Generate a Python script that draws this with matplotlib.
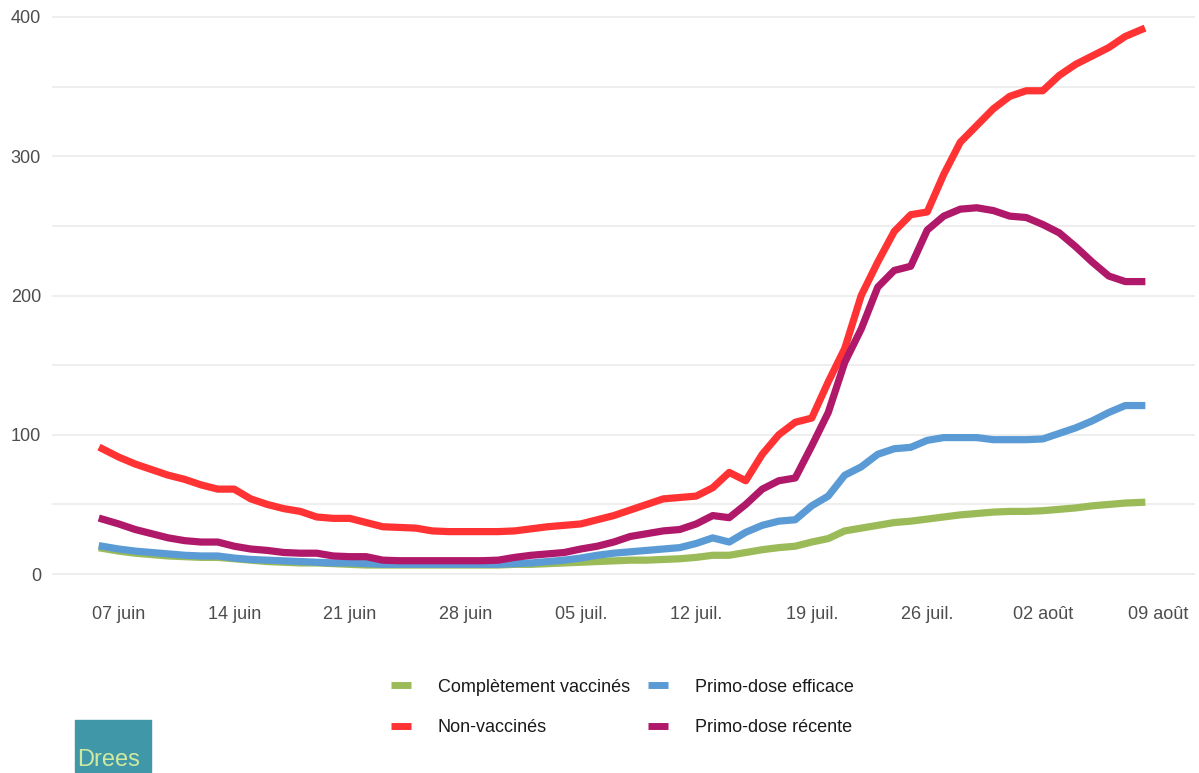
import matplotlib
matplotlib.use('Agg')
import matplotlib.pyplot as plt
from matplotlib.patches import Rectangle
import numpy as np

plt.rc('font', family=['Liberation Sans', 'DejaVu Sans'], size=13)

# daily dates, 06 juin -> 08 août 2021
dates = np.arange(np.datetime64('2021-06-06'), np.datetime64('2021-08-09'))

non_vaccines = [90, 84, 79, 75, 71, 68, 64, 61, 61, 54, 50, 47, 45, 41, 40, 40,
                37, 34, 33.5, 33, 31, 30.5, 30.5, 30.5, 30.5, 31, 32.5, 34, 35, 36,
                39, 42, 46, 50, 54, 55, 56, 62, 73, 67, 86, 100, 109, 112, 138, 162,
                200, 224, 246, 258, 260, 287, 310, 322, 334, 343, 347, 347, 358, 366,
                372, 378, 386, 391]
primo_recente = [39.5, 36, 32, 29, 26, 24, 23, 23, 20, 18, 17, 15.5, 15, 15, 13,
                 12.5, 12.5, 10, 9.6, 9.6, 9.6, 9.6, 9.6, 9.6, 10, 12, 13.5, 14.5,
                 15.5, 18, 20, 23, 27, 29, 31, 32, 36, 42, 40.5, 50, 61, 67, 69, 92,
                 116, 152, 176, 206, 218, 221, 247, 257, 262, 263, 261, 257, 256,
                 251, 245, 235, 224, 214, 210, 210]
primo_efficace = [20, 18, 16.5, 15.5, 14.5, 13.5, 13, 13, 11.5, 10.5, 10, 9.5, 9,
                  8.5, 8, 8, 7.5, 7, 7, 7, 7, 7, 7, 7, 7, 7.5, 8, 9, 10, 11.5, 13.5,
                  15, 16, 17, 18, 19, 22, 26, 23, 30, 35, 38, 39, 49, 56, 71, 77, 86,
                  90, 91, 96, 98, 98, 98, 96.5, 96.5, 96.5, 97, 101, 105, 110, 116,
                  121, 121]
completement = [18.5, 16.5, 15, 14, 13, 12.5, 12, 12, 11, 10, 9, 8.5, 8, 8, 7.5,
                7, 6.5, 6.5, 6.5, 6.5, 6.5, 6.5, 6.5, 6.5, 6.5, 7, 7, 7.5, 8, 8.5,
                9, 9.5, 10, 10, 10.5, 11, 12, 13.5, 13.5, 15.5, 17.5, 19, 20, 23,
                25.5, 31, 33, 35, 37, 38, 39.5, 41, 42.5, 43.5, 44.5, 45, 45, 45.5,
                46.5, 47.5, 49, 50, 51, 51.5]

tick_dates = np.arange(np.datetime64('2021-06-07'), np.datetime64('2021-08-10'), 7)
tick_labels = ['07 juin', '14 juin', '21 juin', '28 juin', '05 juil.', '12 juil.',
               '19 juil.', '26 juil.', '02 août', '09 août']

fig = plt.figure(figsize=(11.99, 7.73), dpi=100)
ax = fig.add_axes([0.0434, 0.2303, 0.953, 0.7568])

lw = 5.2
ax.plot(dates, completement, color='#9bbb59', lw=lw, label='Complètement vaccinés')
ax.plot(dates, non_vaccines, color='#ff3333', lw=lw, label='Non-vaccinés')
ax.plot(dates, primo_efficace, color='#5b9bd5', lw=lw, label='Primo-dose efficace')
ax.plot(dates, primo_recente, color='#b0186a', lw=lw, label='Primo-dose récente')

ax.set_ylim(-15, 405)
ax.set_xlim(np.datetime64('2021-06-07') - np.timedelta64(97, 'h'),
            np.datetime64('2021-06-07') + np.timedelta64(1565, 'h'))
ax.set_yticks([0, 100, 200, 300, 400])
ax.set_yticks([50, 150, 250, 350], minor=True)
ax.set_xticks(tick_dates)
ax.set_xticklabels(tick_labels)
ax.grid(which='major', axis='y', color='#ebebeb', lw=1.2)
ax.grid(which='minor', axis='y', color='#ebebeb', lw=1.2)
ax.set_axisbelow(True)
ax.tick_params(which='both', length=0, colors='#4d4d4d', labelsize=13)
ax.tick_params(axis='x', pad=8)
ax.tick_params(axis='y', pad=8)
for s in ax.spines.values():
    s.set_visible(False)

h, l = ax.get_legend_handles_labels()
leg = fig.legend(h, l, ncol=2, loc='center', bbox_to_anchor=(0.519, 0.085),
                 frameon=False, handlelength=1.1, handletextpad=1.5,
                 columnspacing=1.0, labelspacing=1.3, fontsize=13,
                 labelcolor='#1a1a1a')
for line in leg.get_lines():
    line.set_linewidth(5)
    line.set_solid_capstyle('butt')

# Drees logo
fig.patches.append(Rectangle((75 / 1199, 1 - 772 / 773), 76 / 1199, 52 / 773,
                             transform=fig.transFigure, color='#3f97a8', zorder=0))
fig.text(77 / 1199, 1 - 760 / 773, 'Drees', color='#cfeaa0', fontsize=17,
         ha='left', va='center')

plt.savefig('out.png', dpi=100)
